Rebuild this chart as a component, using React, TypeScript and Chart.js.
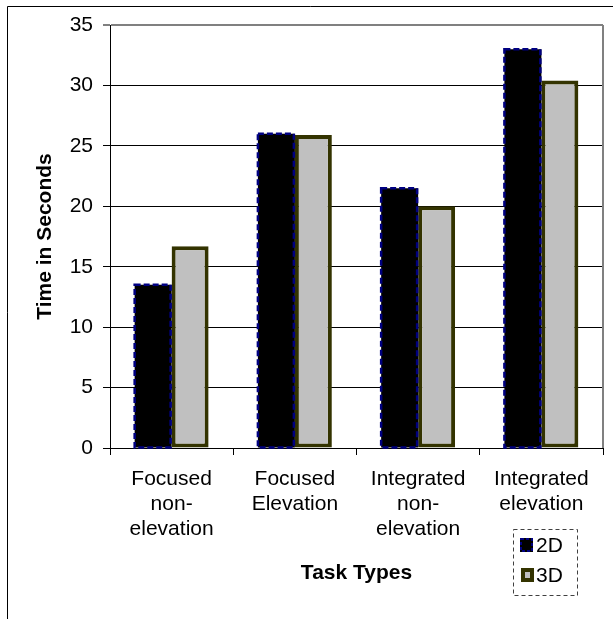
import React, { useEffect, useRef } from 'react';
import { Chart, registerables } from 'chart.js';

Chart.register(...registerables);

const categories: string[][] = [
  ['Focused', 'non-', 'elevation'],
  ['Focused', 'Elevation'],
  ['Integrated', 'non-', 'elevation'],
  ['Integrated', 'elevation'],
];
const seriesNames = ['2D', '3D'];
const values2D = [13.5, 26.0, 21.5, 33.0];
const values3D = [16.7, 25.9, 20.0, 30.4];
const yMin = 0;
const yMax = 35;
const yStep = 5;
const xTitle = 'Task Types';
const yTitle = 'Time in Seconds';

const FONT = '"Liberation Sans", Arial, sans-serif';
const FS = 21;

const framePlugin = {
  id: 'frame',
  beforeDraw(chart: any) {
    const ctx = chart.ctx;
    ctx.save();
    ctx.fillStyle = '#ffffff';
    ctx.fillRect(0, 0, chart.width, chart.height);
    ctx.strokeStyle = '#000000';
    ctx.lineWidth = 1;
    ctx.beginPath();
    ctx.moveTo(7.5, chart.height);
    ctx.lineTo(7.5, 6.5);
    ctx.lineTo(chart.width, 6.5);
    ctx.stroke();
    ctx.restore();
  },
  afterDraw(chart: any) {
    const ctx = chart.ctx;
    const a = chart.chartArea;
    ctx.save();
    ctx.strokeStyle = '#808080';
    ctx.lineWidth = 2;
    ctx.beginPath();
    ctx.moveTo(a.right, a.top);
    ctx.lineTo(a.right, a.bottom);
    ctx.stroke();
    ctx.restore();
  },
};

const dashedBarPlugin = {
  id: 'dashedBars',
  afterDatasetsDraw(chart: any) {
    const ctx = chart.ctx;
    const meta = chart.getDatasetMeta(0);
    ctx.save();
    ctx.strokeStyle = '#000080';
    ctx.lineWidth = 2.5;
    ctx.setLineDash([6, 3]);
    meta.data.forEach((bar: any) => {
      const { x, y, base, width } = bar.getProps(['x', 'y', 'base', 'width'], true);
      ctx.strokeRect(x - width / 2, y, width - 1, base - y);
    });
    ctx.restore();
  },
};

const legendPlugin = {
  id: 'boxLegend',
  afterDraw(chart: any) {
    const ctx = chart.ctx;
    const ds = chart.data.datasets;
    ctx.save();
    ctx.strokeStyle = '#404040';
    ctx.lineWidth = 1;
    ctx.setLineDash([4, 3]);
    ctx.strokeRect(513.5, 529.5, 64, 66);
    ctx.setLineDash([]);
    // 2D marker
    ctx.fillStyle = '#000000';
    ctx.fillRect(520, 538, 13, 14);
    ctx.strokeStyle = '#000080';
    ctx.lineWidth = 2;
    ctx.setLineDash([3, 2]);
    ctx.strokeRect(521, 539, 11, 12);
    ctx.setLineDash([]);
    // 3D marker
    ctx.fillStyle = '#333300';
    ctx.fillRect(521, 568, 13, 14);
    ctx.fillStyle = '#c0c0c0';
    ctx.fillRect(525, 572, 5, 6);
    ctx.fillStyle = '#000000';
    ctx.font = `${FS}px ${FONT}`;
    ctx.textBaseline = 'middle';
    ctx.textAlign = 'left';
    ctx.fillText(ds[0].label, 536, 546);
    ctx.fillText(ds[1].label, 536, 576);
    ctx.restore();
  },
};

export default function App() {
  const ref = useRef<HTMLCanvasElement | null>(null);

  useEffect(() => {
    document.body.style.margin = '0';
    const canvas = ref.current;
    if (!canvas) return;
    const chart = new Chart(canvas, {
      type: 'bar',
      data: {
        labels: categories,
        datasets: [
          {
            label: seriesNames[0],
            data: values2D,
            backgroundColor: '#000000',
            borderWidth: 0,
          },
          {
            label: seriesNames[1],
            data: values3D,
            backgroundColor: '#c0c0c0',
            borderColor: '#333300',
            borderWidth: 4,
            borderSkipped: false,
          },
        ],
      },
      options: {
        responsive: false,
        maintainAspectRatio: false,
        animation: false,
        devicePixelRatio: 1,
        datasets: {
          bar: { categoryPercentage: 0.6, barPercentage: 1.0 },
        },
        layout: { padding: { left: 8, right: 10, top: 25, bottom: 0 } },
        plugins: {
          legend: { display: false },
          tooltip: { enabled: false },
          title: { display: false },
        },
        scales: {
          x: {
            offset: true,
            grid: {
              offset: true,
              drawOnChartArea: false,
              drawTicks: true,
              tickLength: 7,
              tickColor: '#000000',
              color: '#000000',
            },
            border: { display: true, color: '#000000', width: 1 },
            ticks: {
              color: '#000000',
              font: { family: FONT, size: FS, lineHeight: 25 / FS },
              padding: 12,
              maxRotation: 0,
              autoSkip: false,
            },
            title: {
              display: true,
              text: xTitle,
              color: '#000000',
              font: { family: FONT, size: FS, weight: 'bold', lineHeight: 1.2 },
              padding: { top: 0, bottom: 33 },
            },
            afterFit(scale: any) {
              scale.height = 619 - 448;
            },
          },
          y: {
            min: yMin,
            max: yMax,
            ticks: {
              stepSize: yStep,
              color: '#000000',
              font: { family: FONT, size: FS },
              padding: 10,
            },
            grid: {
              color: (c: any) => (c.tick && c.tick.value === yMax ? '#808080' : '#000000'),
              lineWidth: (c: any) => (c.tick && c.tick.value === yMax ? 2 : 1),
              tickColor: '#000000',
              tickLength: 7,
              tickWidth: 1,
            },
            border: { display: true, color: '#000000', width: 1 },
            title: {
              display: true,
              text: yTitle,
              color: '#000000',
              font: { family: FONT, size: FS, weight: 'bold', lineHeight: 1.2 },
              padding: { top: 25, bottom: 0 },
            },
            afterFit(scale: any) {
              scale.width = 110 - 8;
            },
          },
        },
      },
      plugins: [framePlugin, dashedBarPlugin, legendPlugin],
    } as any);
    return () => chart.destroy();
  }, []);

  return (
    <div style={{ width: 613, height: 619, position: 'relative' }}>
      <canvas ref={ref} width={613} height={619} style={{ display: 'block' }} />
    </div>
  );
}
